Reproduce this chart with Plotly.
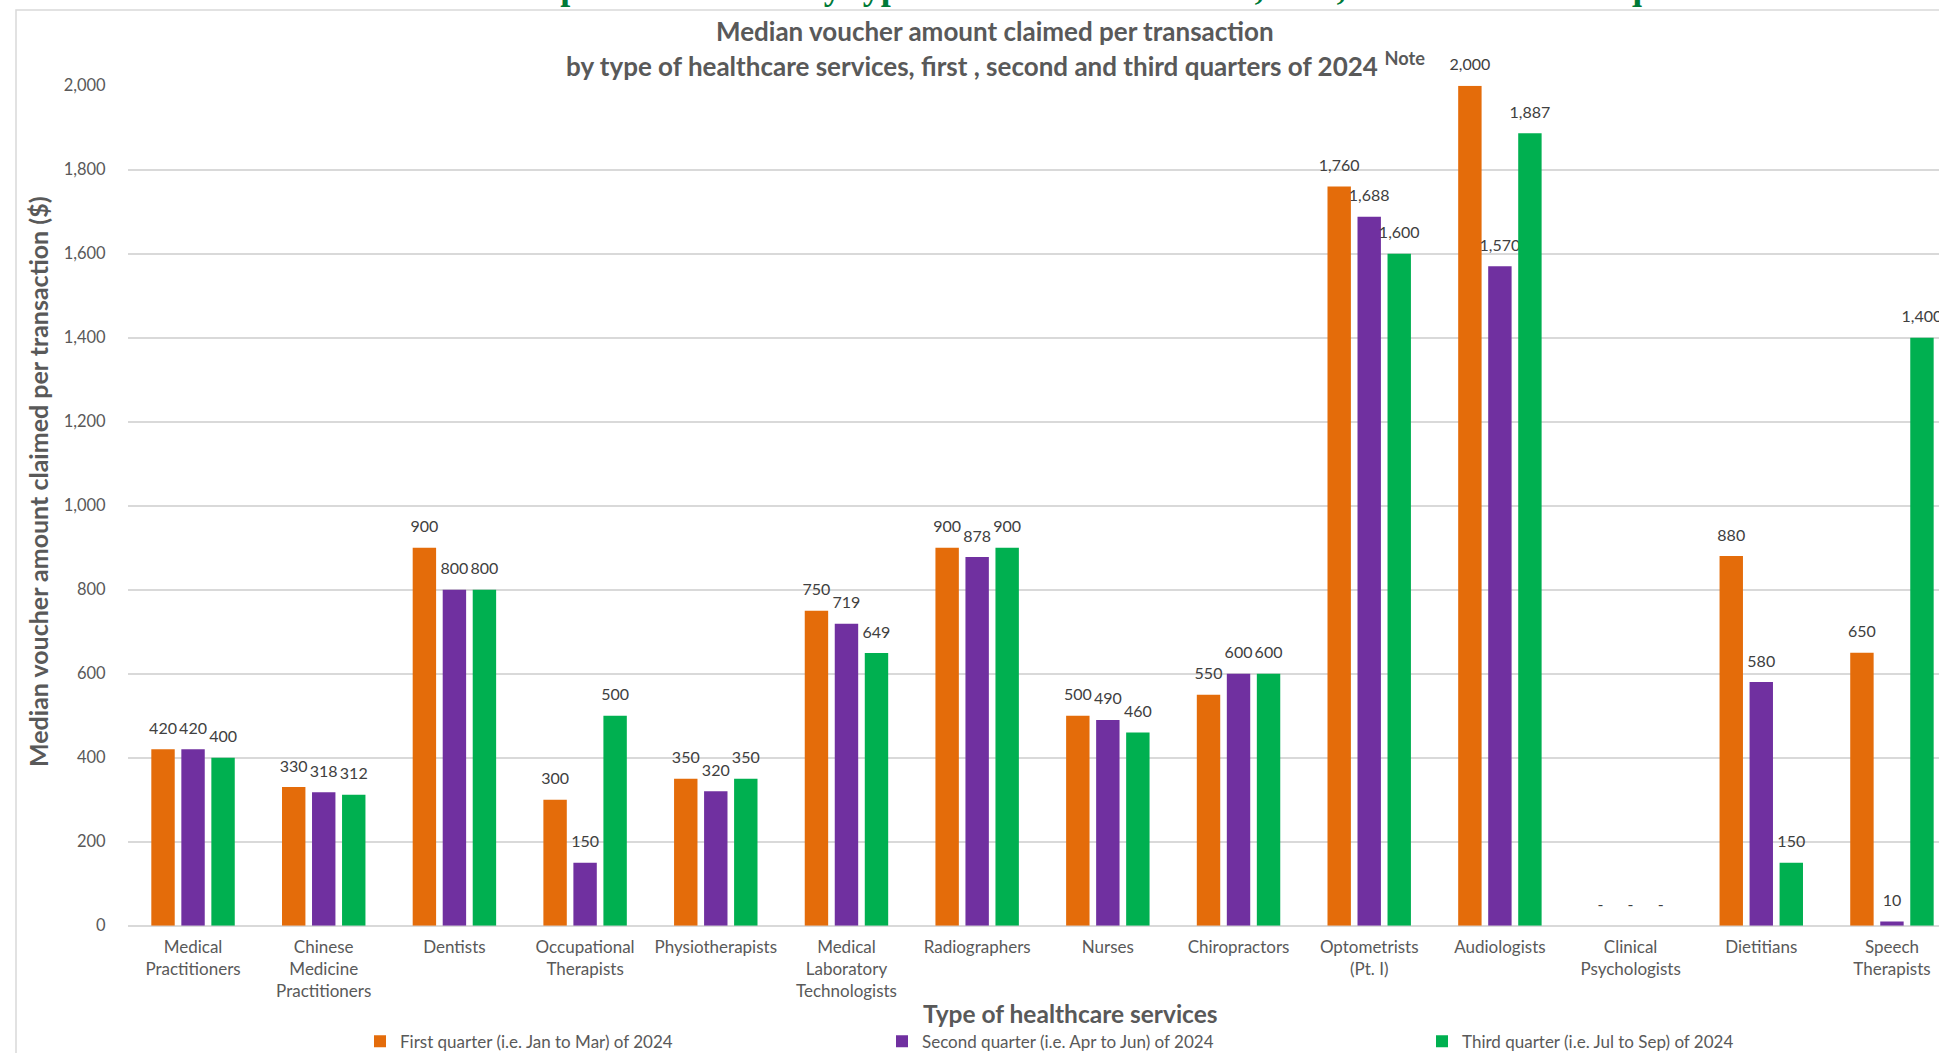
import plotly.graph_objects as go

W, H = 1939, 1053

categories = [
    "Medical<br>Practitioners",
    "Chinese<br>Medicine<br>Practitioners",
    "Dentists",
    "Occupational<br>Therapists",
    "Physiotherapists",
    "Medical<br>Laboratory<br>Technologists",
    "Radiographers",
    "Nurses",
    "Chiropractors",
    "Optometrists<br>(Pt. I)",
    "Audiologists",
    "Clinical<br>Psychologists",
    "Dietitians",
    "Speech<br>Therapists",
]

q1_values = [420, 330, 900, 300, 350, 750, 900, 500, 550, 1760, 2000, None, 880, 650]
q2_values = [420, 318, 800, 150, 320, 719, 878, 490, 600, 1688, 1570, None, 580, 10]
q3_values = [400, 312, 800, 500, 350, 649, 900, 460, 600, 1600, 1887, None, 150, 1400]

series_names = [
    "First quarter (i.e. Jan to Mar) of 2024",
    "Second quarter (i.e. Apr to Jun) of 2024",
    "Third quarter (i.e. Jul to Sep) of 2024",
]
series_colors = ["#E46C0A", "#7030A0", "#00B050"]
legend_ids = ["legend", "legend2", "legend3"]

y_ticks = list(range(0, 2001, 200))

FONT = "Lato"
GRAY = "#595959"


def label(v):
    # label in a 16px span, followed by a short blank line (base size 8px)
    s = "-" if v is None else f"{v:,}"
    return f"<span style='font-size:16px'>{s}</span><br>&nbsp;"


fig = go.Figure()
for name, vals, col, lg in zip(series_names, [q1_values, q2_values, q3_values], series_colors, legend_ids):
    fig.add_trace(go.Bar(
        x=categories,
        y=[0 if v is None else v for v in vals],
        name=name,
        legend=lg,
        marker=dict(color=col, line=dict(width=0)),
        text=[label(v) for v in vals],
        textposition="outside",
        textfont=dict(family=FONT, size=8, color="#404040"),
        constraintext="none",
        cliponaxis=False,
        hoverinfo="skip",
    ))

px = lambda x: x / W
py = lambda y: (H - y) / H

def legend_at(xpix):
    return dict(
        orientation="h", x=px(xpix), xanchor="left", y=py(1041.7), yanchor="middle",
        font=dict(family=FONT, size=17, color=GRAY),
        itemwidth=30, bgcolor="rgba(0,0,0,0)", borderwidth=0,
    )

fig.update_layout(
    width=W, height=H,
    margin=dict(l=0, r=0, t=0, b=0, autoexpand=False),
    paper_bgcolor="white", plot_bgcolor="white",
    barmode="group", bargap=0.311, bargroupgap=0.22,
    font=dict(family=FONT, color=GRAY),
    showlegend=True,
    legend=legend_at(360),
    legend2=legend_at(882),
    legend3=legend_at(1422),
    xaxis=dict(
        domain=[px(127.7), 1], range=[-0.5, 13.36],
        showgrid=False, showline=False, zeroline=False, ticks="",
        tickfont=dict(family=FONT, size=17, color=GRAY),
        ticklabelstandoff=9,
        automargin=False,
    ),
    yaxis=dict(
        domain=[py(925.7), py(85.7)], range=[0, 2000],
        tickvals=y_ticks, tickformat=",",
        showgrid=True, gridcolor="#D9D9D9", gridwidth=1.5,
        zeroline=True, zerolinecolor="#D9D9D9", zerolinewidth=1.5,
        showline=False, ticks="",
        tickfont=dict(family=FONT, size=16.5, color=GRAY),
        ticklabelstandoff=21,
        automargin=False,
    ),
)

annotations = [
    dict(text="<b>Median voucher amount claimed per transaction</b>",
         x=px(995), y=py(31), xref="paper", yref="paper", xanchor="center", yanchor="middle",
         showarrow=False, font=dict(family=FONT, size=26, color=GRAY)),
    dict(text="<b>by type of healthcare services, first , second and third quarters of 2024</b> <b><sup>Note</sup></b>",
         x=px(995), y=py(64), xref="paper", yref="paper", xanchor="center", yanchor="middle",
         showarrow=False, font=dict(family=FONT, size=26, color=GRAY)),
    dict(text="<b>Median voucher amount claimed per transaction ($)</b>",
         x=px(38), y=py(482), xref="paper", yref="paper", xanchor="center", yanchor="middle",
         textangle=-90, showarrow=False, font=dict(family=FONT, size=25, color=GRAY)),
    dict(text="<b>Type of healthcare services</b>",
         x=px(1070), y=py(1013), xref="paper", yref="paper", xanchor="center", yanchor="middle",
         showarrow=False, font=dict(family=FONT, size=24.5, color=GRAY)),
    dict(text="<b>Median voucher amount claimed per transaction by type of healthcare services, first, second and third quarters of 2024</b>",
         x=px(959), y=py(9), xref="paper", yref="paper", xanchor="center", yanchor="bottom",
         showarrow=False, font=dict(family="Liberation Serif", size=36, color="#007A37")),
]
fig.update_layout(annotations=annotations)

fig.add_shape(type="rect", xref="paper", yref="paper",
              x0=px(16), x1=1.05, y0=-0.05, y1=py(10),
              line=dict(color="#D9D9D9", width=1.5), fillcolor="rgba(0,0,0,0)", layer="below")

fig.write_html("out.html")
